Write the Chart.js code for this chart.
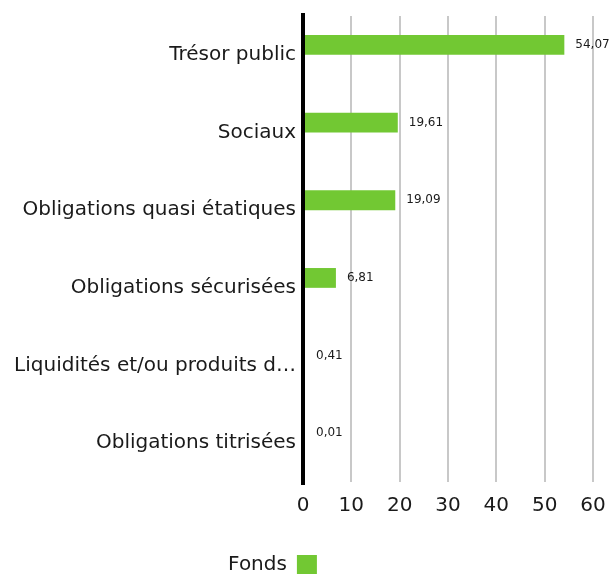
<!DOCTYPE html>
<html>
<head>
<meta charset="utf-8">
<script src="https://cdn.jsdelivr.net/npm/chart.js@4/dist/chart.umd.min.js"></script>
<style>
  html, body { margin: 0; padding: 0; background: #fff; }
  #wrap { width: 611px; height: 574px; position: relative; }
</style>
</head>
<body>
<div id="wrap"><canvas id="c"></canvas></div>
<script>
const categories = [
  "Trésor public",
  "Sociaux",
  "Obligations quasi étatiques",
  "Obligations sécurisées",
  "Liquidités et/ou produits d…",
  "Obligations titrisées"
];
const fondsValues = [54.07, 19.61, 19.09, 6.81, 0.41, 0.01];
const xTicks = [0, 10, 20, 30, 40, 50, 60];
const seriesName = "Fonds";

const FONT = "'DejaVu Sans', sans-serif";
const GREEN = "#72c833";
const TEXT = "#1a1a1a";

const valueLabels = {
  id: 'valueLabels',
  afterDraw(chart) {
    const ctx = chart.ctx;
    const meta = chart.getDatasetMeta(0);
    ctx.save();
    ctx.font = "12px " + FONT;
    ctx.fillStyle = TEXT;
    ctx.textAlign = "left";
    ctx.textBaseline = "middle";
    meta.data.forEach((bar, i) => {
      const v = fondsValues[i];
      const txt = v.toFixed(2).replace('.', ',');
      ctx.fillText(txt, Math.max(bar.x, chart.chartArea.left + 2) + 11, bar.y);
    });
    ctx.restore();
  }
};

// zero axis line drawn over the bars, slightly overshooting the plot area
const zeroAxis = {
  id: 'zeroAxis',
  afterDatasetsDraw(chart) {
    const ctx = chart.ctx;
    const x = chart.scales.x.getPixelForValue(0);
    const { top, bottom } = chart.chartArea;
    ctx.save();
    ctx.strokeStyle = '#000';
    ctx.lineWidth = 4;
    ctx.beginPath();
    ctx.moveTo(x, top - 3);
    ctx.lineTo(x, bottom + 3);
    ctx.stroke();
    ctx.restore();
  }
};

const legendShift = {
  id: 'legendShift',
  afterLayout(chart) {
    const lg = chart.legend;
    if (lg) { lg.left -= 24; lg.right -= 24; lg.top += 11; lg.bottom += 11; }
  }
};

new Chart(document.getElementById('c'), {
  type: 'bar',
  data: {
    labels: categories,
    datasets: [
      { label: seriesName, data: fondsValues, backgroundColor: GREEN, borderWidth: 0,
        categoryPercentage: 0.51, barPercentage: 1.0 },
      { label: '_spacer', data: fondsValues.map(() => null), backgroundColor: 'rgba(0,0,0,0)',
        categoryPercentage: 0.51, barPercentage: 1.0 }
    ]
  },
  options: {
    indexAxis: 'y',
    responsive: true,
    maintainAspectRatio: false,
    animation: false,
    layout: { padding: { top: 16, right: 18, bottom: 0, left: 0 } },
    plugins: {
      tooltip: { enabled: false },
      legend: {
        position: 'bottom',
        rtl: true,
        labels: {
          filter: (item) => item.text !== '_spacer',
          font: { family: FONT, size: 20 },
          color: TEXT,
          boxWidth: 20,
          boxHeight: 20,
          padding: 0
        }
      }
    },
    scales: {
      x: {
        min: 0, max: 60,
        afterBuildTicks(scale) { scale.ticks = xTicks.map(v => ({ value: v })); },
        afterFit(scale) { scale.height = 62; scale.paddingRight = 0; scale.paddingLeft = 0; },
        grid: { color: '#c8c8c8', lineWidth: 2, drawTicks: false },
        border: { display: false },
        ticks: { font: { family: FONT, size: 20 }, color: TEXT, padding: 12 }
      },
      y: {
        afterFit(scale) { scale.width = 303; scale.paddingTop = 0; scale.paddingBottom = 0; },
        grid: { display: false, drawTicks: false },
        border: { display: false },
        ticks: { font: { family: FONT, size: 20 }, color: TEXT, padding: 7 }
      }
    }
  },
  plugins: [valueLabels, zeroAxis, legendShift]
});
</script>
</body>
</html>
